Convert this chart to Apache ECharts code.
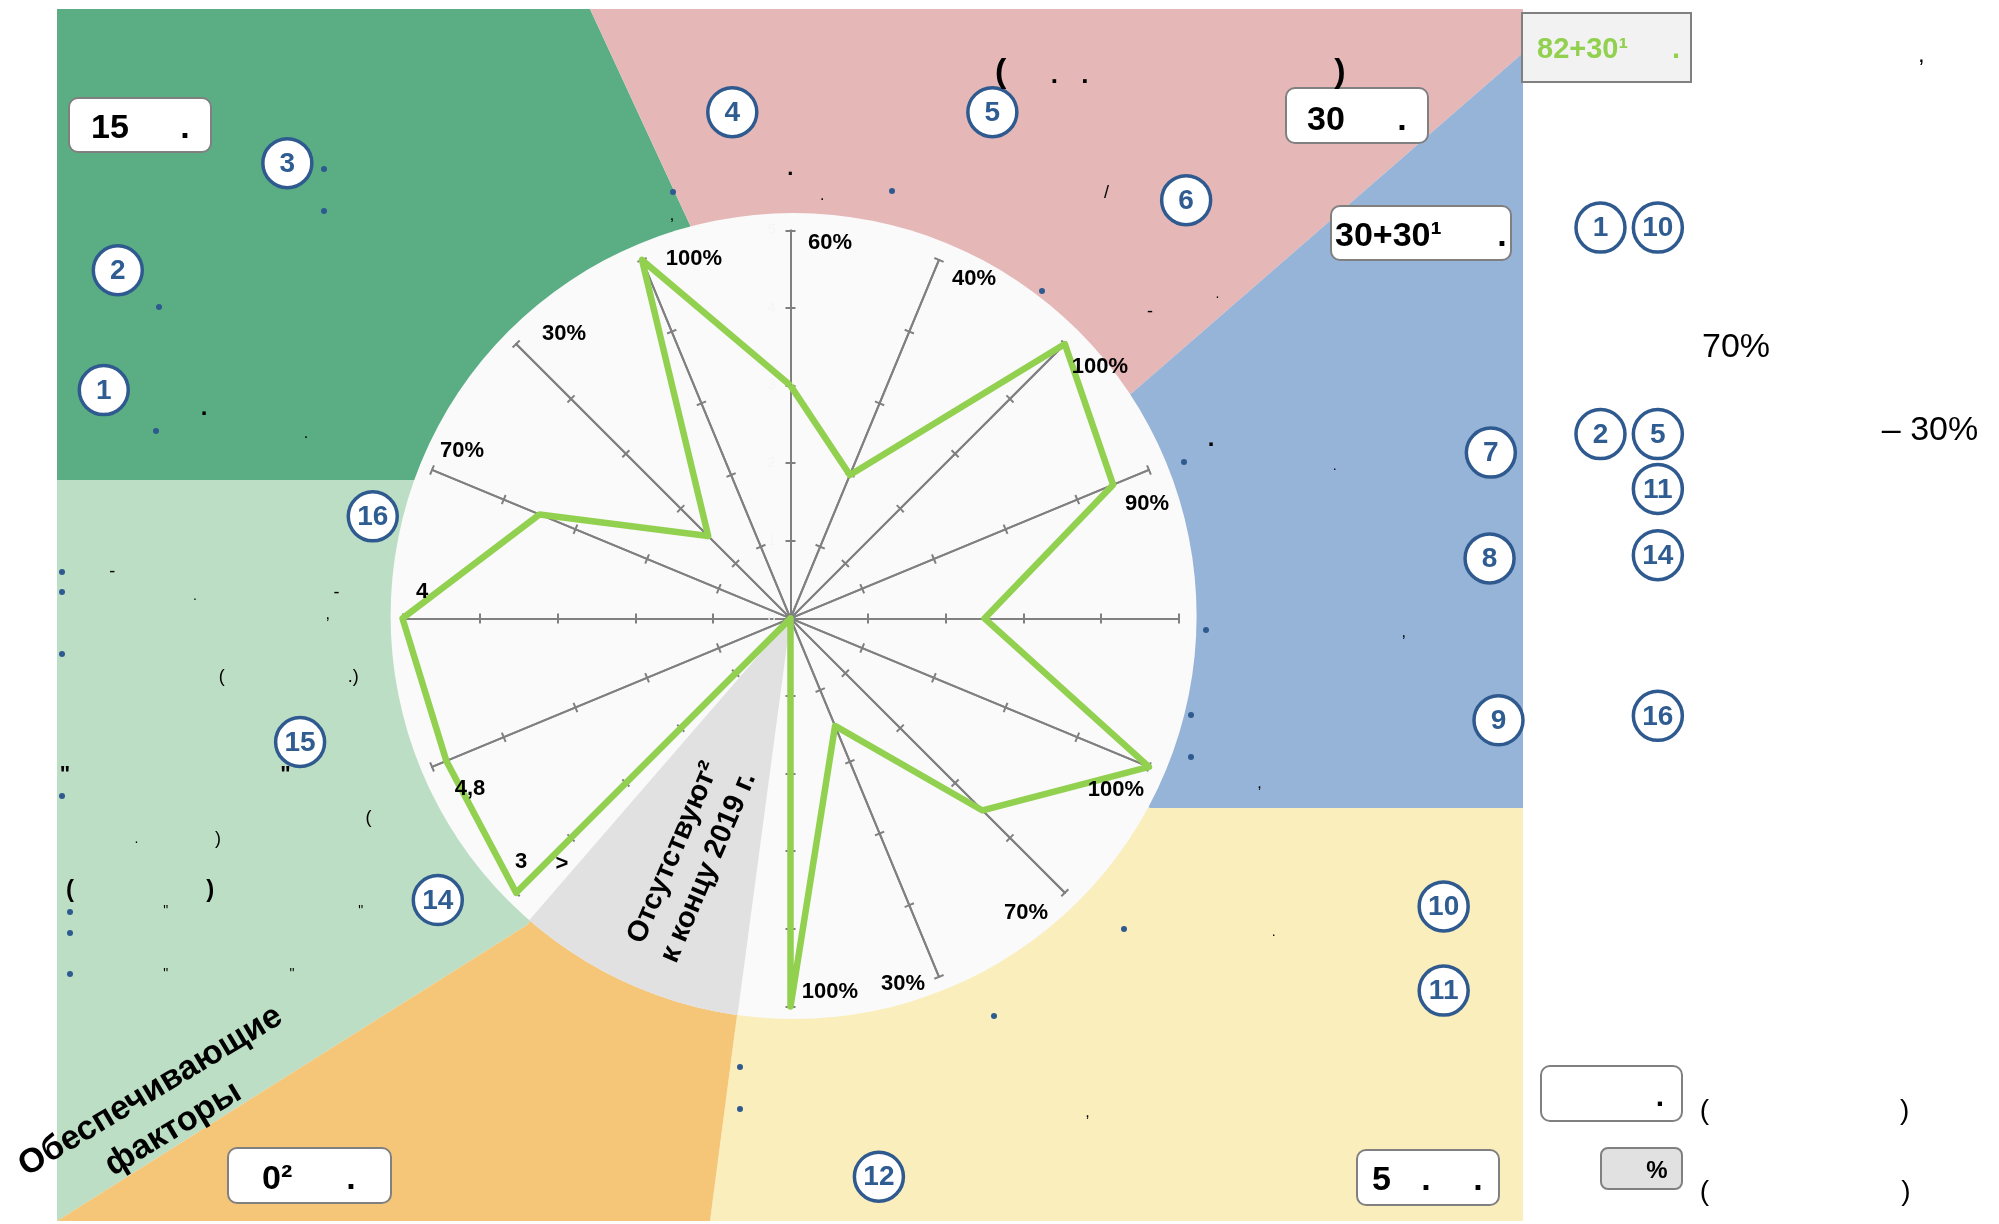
<!DOCTYPE html>
<html style="height: 100%">
<head>
    <meta charset="utf-8">
    <style>body { margin: 0; background: #fff; }</style>
</head>
<body>
<div id="container" style="width: 1999px; height: 1224px;"></div>
<script type="text/javascript" src="https://cdn.jsdelivr.net/npm/echarts@6/dist/echarts.min.js"></script>
<script type="text/javascript">
    // values clockwise from the top axis, scale 0-5
    var pointLabels = ['60%', '40%', '100%', '90%', '', '100%', '70%', '30%', '100%', '', '3', '4,8', '4', '70%', '30%', '100%'];
    var scoreValues = [3, 2, 5, 4.5, 2.5, 5, 3.5, 1.5, 5, 0, 5, 4.8, 5, 3.5, 1.5, 5];
    var scaleTicks = [1, 2, 3, 4, 5];

    var markerNumbers = [3, 2, 1, 4, 5, 6, 7, 8, 9, 10, 11, 12, 14, 15, 16, 1, 10, 2, 5, 11, 14, 16];

    // ---- layout, px in the 1999x1224 picture ----
    var FONT = '"Liberation Sans", Arial, sans-serif';
    var K = 1999 / 1568; // some positions
    var CX = 790.5, CY = 618.4, AXIS_R = 388;
    var DISC_X = 793.6, DISC_Y = 616, DISC_R = 403;

    var labelPos = [[830, 243], [974, 279], [1100, 367], [1147, 504], null, [1116, 790], [1026, 913], [903, 984],
        [830, 992], null, [521, 862], [470, 789], [422, 592], [462, 451], [564, 334], [694, 259]];
    var markerPos = [[225.4, 128], [92.4, 212], [81.4, 306], [574.4, 88], [778.4, 88], [930.4, 157], [1169.4, 355], [1168.4, 438],
        [1175.4, 565], [1132.4, 711], [1132.4, 777], [689.4, 923], [343.4, 706], [235.4, 582], [292.4, 405],
        [1255.4, 178.5], [1300.4, 178.5], [1255.4, 340.5], [1300.4, 340.5], [1300.4, 383.5], [1300.4, 435.5], [1300.4, 561.5]];
    var dotPos = [[324, 169], [324, 211], [159, 307], [156, 431], [673, 192], [892, 191], [1042, 291], [1184, 462],
        [1206, 630], [1191, 715], [1191, 757], [1124, 929], [994, 1016], [740, 1067], [740, 1109],
        [62, 572], [62, 592], [62, 654], [62, 796], [70, 912], [70, 933], [70, 974]];
    // leftover punctuation: glyph, x, y of the glyph centre on the shrunk picture, size, bold
    var strayText = [
        ['.', 160, 323, 24, 1], ['.', 240, 342, 16, 0], ['.', 620, 135, 22, 1], ['.', 645, 155, 16, 0],
        [',', 527, 170, 16, 0], ['/', 868, 150, 18, 0], ['.', 955, 232, 14, 0], ['-', 902, 245, 18, 0],
        ['.', 950, 347, 24, 1], ['.', 1047, 367, 14, 0], [',', 1101, 497, 16, 0], [',', 988, 615, 16, 0],
        ['.', 999, 733, 14, 0], [',', 853, 873, 16, 0], ['-', 88, 449, 18, 0], ['.', 153, 469, 14, 0],
        ['-', 264, 465, 18, 0], [',', 257, 483, 16, 0], ['(', 174, 530, 18, 0], ['.)', 277, 530, 18, 0],
        ['"', 51, 603, 22, 1], ['"', 224, 603, 22, 1], ['(', 289, 641, 18, 0], ['.', 107, 660, 14, 0],
        [')', 171, 657, 18, 0], ['(', 55, 697, 24, 1], [')', 165, 697, 24, 1], ['"', 130, 712, 14, 0],
        ['"', 283, 712, 14, 0], ['"', 130, 761, 14, 0], ['"', 229, 761, 14, 0], [',', 1507, 44, 24, 0],
        ['(', 785, 55, 34, 1], ['.', 827, 62, 26, 1], ['.', 851, 62, 26, 1], [')', 1051, 55, 34, 1],
        ['(', 1337, 870, 28, 0], [')', 1494, 870, 28, 0], ['(', 1337, 934, 28, 0], [')', 1495, 934, 28, 0]
    ];
    // from the glyph's centre to the middle of its line box, in em
    var strayOffset = {'.': -0.14, ',': -0.05, '-': 0, '/': 0.08, '(': 0.06, ')': 0.06, '.)': 0.06, '"': 0.28};

    function poly(points, color, z) {
        return {type: 'polygon', z: z, shape: {points: points}, style: {fill: color}, silent: true};
    }

    function text(str, x, y, size, opt) {
        opt = opt || {};
        return {
            type: 'text', z: 20, x: x, y: y, rotation: opt.rotation || 0, silent: true,
            style: {
                text: str, fill: opt.color || '#000', font: (opt.bold === 0 ? '' : 'bold ') + size + 'px ' + FONT,
                textAlign: opt.align || 'center', textVerticalAlign: 'middle', lineHeight: opt.lineHeight
            }
        };
    }

    // same, y is the baseline
    function onBase(str, x, y, size, opt) {
        return text(str, x, y - 0.27 * size, size, opt);
    }

    function box(x0, y0, x1, y1, fill, radius) {
        return {
            type: 'rect', z: 15, silent: true,
            shape: {x: x0, y: y0, width: x1 - x0, height: y1 - y0, r: radius},
            style: {fill: fill, stroke: '#808080', lineWidth: 2}
        };
    }

    var elements = [
        poly([[57, 9], [590, 9], [690, 225], [CX, CY], [413, 480], [57, 480]], '#5bae83', -10),
        poly([[57, 480], [413, 480], [CX, CY], [527, 925], [57, 1221]], '#bcdec4', -10),
        poly([[590, 9], [1523, 9], [1523, 53], [1132, 393], [CX, CY], [690, 225]], '#e6b7b7', -10),
        poly([[1523, 53], [1523, 808], [1150, 808], [CX, CY], [1132, 393]], '#96b3d8', -10),
        poly([[1523, 808], [1523, 1221], [710, 1221], [736, 1023], [CX, CY], [1150, 808]], '#f9eebc', -10),
        poly([[57, 1221], [527, 925], [CX, CY], [736, 1023], [710, 1221]], '#f5c578', -10),
        {type: 'circle', z: -9, silent: true, shape: {cx: DISC_X, cy: DISC_Y, r: DISC_R}, style: {fill: '#fafafa'}}
    ];

    // grey "missing" sector, its outer edge follows the disc
    var greySector = [[CX, CY]];
    for (var a = 131; a >= 98; a -= 1) {
        greySector.push([DISC_X + DISC_R * Math.cos(a * Math.PI / 180), DISC_Y + DISC_R * Math.sin(a * Math.PI / 180)]);
    }
    elements.push(poly(greySector, '#e1e1e1', -8));

    pointLabels.forEach(function (label, i) {
        if (label) {
            elements.push(text(label, labelPos[i][0], labelPos[i][1], 22));
        }
    });
    elements.push(text('>', 562, 864, 22));

    dotPos.forEach(function (p) {
        elements.push({type: 'circle', z: 14, silent: true, shape: {cx: p[0], cy: p[1], r: 3}, style: {fill: '#2f5a8f'}});
    });

    strayText.forEach(function (s) {
        var size = s[3];
        elements.push(text(s[0], s[1] * K, s[2] * K + size * strayOffset[s[0]], size, {bold: s[4]}));
    });

    markerNumbers.forEach(function (num, i) {
        var x = markerPos[i][0] * K, y = markerPos[i][1] * K;
        elements.push({
            type: 'circle', z: 18, silent: true, shape: {cx: x, cy: y, r: 24.5},
            style: {fill: '#fff', stroke: '#2f5a8f', lineWidth: 3.5}
        });
        elements.push(text(String(num), x, y + 1, 28, {color: '#2f5c91'}));
    });

    // value boxes
    elements.push(box(69, 98, 211, 152, '#fff', 9), onBase('15', 91, 138, 34, {align: 'left'}), onBase('.', 185, 138, 34));
    elements.push(box(1286, 88, 1428, 143, '#fff', 9), onBase('30', 1307, 129.5, 34, {align: 'left'}), onBase('.', 1402, 129.5, 34));
    elements.push(box(1331, 206, 1511, 260, '#fff', 9), onBase('30+30¹', 1335, 246, 34, {align: 'left'}), onBase('.', 1502, 246, 34));
    elements.push(box(1522, 13, 1691, 82, '#f2f2f2', 0), onBase('82+30¹', 1537, 58, 29, {align: 'left', color: '#92d050'}), onBase('.', 1676, 58, 29, {color: '#92d050'}));
    elements.push(box(228, 1148, 391, 1203, '#fff', 9), onBase('0²', 262, 1189, 34, {align: 'left'}), onBase('.', 351, 1189, 34));
    elements.push(box(1357, 1150, 1499, 1205, '#fff', 9), onBase('5', 1372, 1190, 34, {align: 'left'}), onBase('.', 1426, 1190, 34), onBase('.', 1478, 1190, 34));
    elements.push(box(1541, 1066, 1682, 1121, '#fff', 9), onBase('.', 1660, 1106, 30));
    elements.push(box(1601, 1148, 1682, 1189, '#e1e1e1', 7), onBase('%', 1657, 1177.5, 24));

    // free text
    elements.push(text('70%', 1736, 348, 34, {bold: 0}));
    elements.push(text('– 30%', 1930, 431, 34, {bold: 0}));
    elements.push(text('Обеспечивающие\nфакторы', 162, 1110, 34, {rotation: 31 * Math.PI / 180, lineHeight: 44}));
    elements.push(text('Отсутствуют²\nк концу 2019 г.', 691, 860, 29, {rotation: 67 * Math.PI / 180, lineHeight: 38}));

    var axisColor = '#808080';

    // echarts lays radar axes out counter-clockwise from the top
    function toRadarOrder(list) {
        return [list[0]].concat(list.slice(1).reverse());
    }

    // one radar per tick side, echarts only draws ticks to one side of an axis
    function makeIndicators(showLabels) {
        return scoreValues.map(function (v, i) {
            var ind = {name: String(i + 1), min: 0, max: 5};
            if (i === 9) { // sits under the grey sector
                ind.axisLine = {show: false};
                ind.axisTick = {show: false};
            }
            if (i === 0 && showLabels) {
                ind.axisLabel = {show: true, color: '#f5f5f5', fontSize: 14, fontFamily: FONT, margin: 15};
            }
            return ind;
        });
    }

    function makeRadar(tickLength, showLabels) {
        return {
            center: [CX, CY],
            radius: AXIS_R,
            startAngle: 90,
            splitNumber: scaleTicks.length,
            indicator: toRadarOrder(makeIndicators(showLabels)),
            axisName: {show: false},
            splitLine: {show: false},
            splitArea: {show: false},
            axisLine: {show: true, lineStyle: {color: axisColor, width: 2}},
            axisTick: {show: true, length: tickLength, lineStyle: {color: axisColor, width: 2}},
            axisLabel: {show: false}
        };
    }

    var dom = document.getElementById('container');
    var myChart = echarts.init(dom, null, {renderer: 'canvas'});

    var option = {
        animation: false,
        backgroundColor: '#fff',
        graphic: {elements: elements},
        radar: [makeRadar(5, true), makeRadar(-5, false)],
        series: [{
            type: 'radar',
            radarIndex: 0,
            z: 10,
            symbol: 'none',
            silent: true,
            lineStyle: {color: '#92d050', width: 6.5, join: 'round'},
            data: [{value: toRadarOrder(scoreValues)}]
        }]
    };

    myChart.setOption(option);
</script>
</body>
</html>
